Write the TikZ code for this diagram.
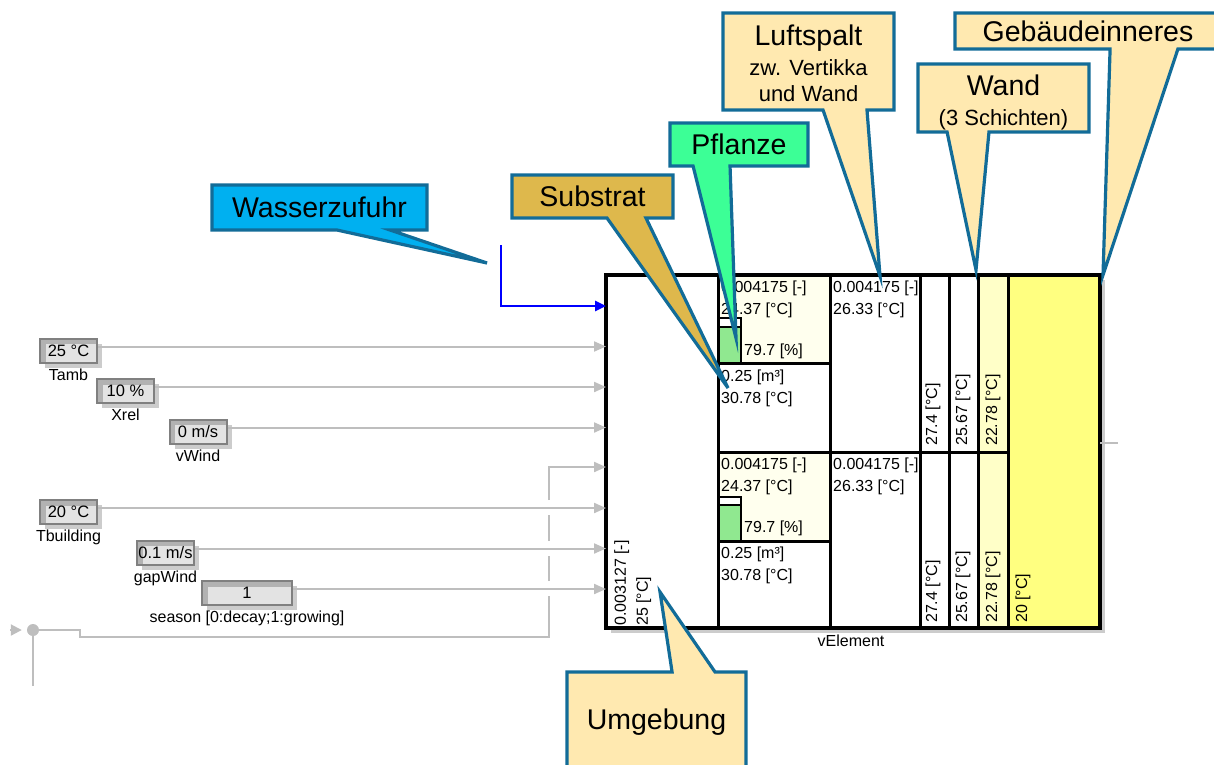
\documentclass[tikz,border=0pt]{standalone}
\usepackage{fontspec}
\setmainfont{Liberation Sans}
\usetikzlibrary{arrows.meta,positioning,calc,shadows}
\definecolor{tagline}{RGB}{18,108,152}
\definecolor{watercolor}{RGB}{0,176,240}
\definecolor{substratecolor}{RGB}{222,184,76}
\definecolor{plantcolor}{RGB}{60,255,150}
\definecolor{creamcolor}{RGB}{255,233,176}
\definecolor{sigcolor}{RGB}{190,190,190}
\definecolor{ivorycolor}{RGB}{255,255,238}
\definecolor{leafcolor}{RGB}{144,232,144}
\definecolor{paleyellow}{RGB}{255,255,200}
\definecolor{roomyellow}{RGB}{255,255,128}
\pgfdeclarelayer{tags}
\pgfdeclarelayer{tagtexts}
\pgfsetlayers{main,tags,tagtexts}

\begin{document}
\begin{tikzpicture}[
    x=1pt, y=-1pt,
    every node/.style={font=\fontsize{16}{22}\selectfont, inner sep=0pt},
    inbox/.style={rectangle, draw=black!50, line width=2pt, fill=black!11, minimum width=57pt, minimum height=24pt,
        font=\fontsize{16.5}{20}\selectfont,
        drop shadow={shadow xshift=5pt, shadow yshift=-5pt, fill=black!20, opacity=1},
        path picture={\draw[black!30, line width=5pt] ([xshift=3pt]path picture bounding box.south west) |- ([yshift=-3pt]path picture bounding box.north east);}},
    inlabel/.style={font=\fontsize{16}{20}\selectfont},
    sig/.style={draw=sigcolor, line width=2pt},
    sigarrow/.style={sig, -{Triangle[length=12pt,width=10pt]}},
    water/.style={draw=blue, line width=2.6pt, -{Triangle[length=11pt,width=10pt]}},
    cell/.style={draw=black, line width=3pt},
    tag/.style={draw=tagline, line width=3.2pt, line join=miter},
    tagtext/.style={font=\fontsize{28.5}{30}\selectfont, align=center, outer sep=0pt},
    tagsmall/.style={font=\fontsize{22}{26}\selectfont}
]
    \useasboundingbox (0,0) rectangle (1214,764);

    % Inputs
    \node[inbox] (tamb) at (68.5,350.5) {25 °C};
    \node[inlabel, below=5pt of tamb] (tamblbl) {Tamb};
    \node[inbox] (xrel) at (125.5,391) {10 \%};
    \node[inlabel, below=5pt of xrel] (xrellbl) {Xrel};
    \node[inbox] (vwind) at (198,431.5) {0 m/s};
    \node[inlabel, below=5pt of vwind] (vwindlbl) {vWind};
    \node[inbox] (tbuild) at (68.5,512) {20 °C};
    \node[inlabel, below=5pt of tbuild] (tbuildlbl) {Tbuilding};
    \node[inbox] (gapwind) at (165.5,552.5) {0.1 m/s};
    \node[inlabel, below=5pt of gapwind] (gapwindlbl) {gapWind};
    \node[inbox, minimum width=90pt] (season) at (247,593) {1};
    \node[inlabel, below=5pt of season] (seasonlbl) {season [0:decay;1:growing]};

    \node[circle, fill=sigcolor, minimum size=12pt] (jn) at (33,630) {};
    \coordinate (busin) at (10,630);
    \coordinate (busdown) at (33,686);
    \coordinate (busturn) at (549,637);
    \coordinate (wsrc) at (501,245);
    \coordinate (outr) at (1118,443);

    % Block
    \node[draw=black, line width=3.5pt, fill=white, outer sep=0pt, minimum width=494pt, minimum height=353pt,
        drop shadow={shadow xshift=5pt, shadow yshift=-5pt, fill=black!20, opacity=1}] (blk) at (853,451.5) {};
    \fill[paleyellow] (978,275) rectangle (1008,628);
    \fill[roomyellow] (1008,275) rectangle (1100,628);
    \filldraw[cell, fill=ivorycolor] (718,275) rectangle (830,363);
    \filldraw[cell, fill=ivorycolor] (718,452) rectangle (830,541);
    \draw[cell] (718,275) -- (718,628);
    \draw[cell] (830,275) -- (830,628);
    \draw[cell] (920,275) -- (920,628);
    \draw[cell] (949,275) -- (949,628);
    \draw[cell] (978,275) -- (978,628);
    \draw[cell] (1008,275) -- (1008,628);
    \draw[cell] (718,452) -- (1008,452);
    \filldraw[cell, line width=2.4pt, fill=white] (719,318) rectangle (741,327);
    \filldraw[cell, line width=2.4pt, fill=leafcolor] (719,327) rectangle (741,363);
    \filldraw[cell, line width=2.4pt, fill=white] (719,497) rectangle (741,505);
    \filldraw[cell, line width=2.4pt, fill=leafcolor] (719,505) rectangle (741,541);
    \draw[line width=3.5pt] (blk.north west) rectangle (blk.south east);

    \node[rotate=90, anchor=north west, align=left] (amb) at (614,626) {0.003127 [-]\\25 [°C]};
    \node[anchor=north west, align=left] (plantu) at (721,281) {0.004175 [-]\\24.37 [°C]};
    \node[anchor=west] (humu) at (744,351) {79.7 [\%]};
    \node[anchor=north west, align=left] (subu) at (721,370) {0.25 [m³]\\30.78 [°C]};
    \node[anchor=north west, align=left] (gapu) at (833,281) {0.004175 [-]\\26.33 [°C]};
    \node[anchor=north west, align=left] (plantl) at (721,458) {0.004175 [-]\\24.37 [°C]};
    \node[anchor=west] (huml) at (744,528) {79.7 [\%]};
    \node[anchor=north west, align=left] (subl) at (721,547) {0.25 [m³]\\30.78 [°C]};
    \node[anchor=north west, align=left] (gapl) at (833,458) {0.004175 [-]\\26.33 [°C]};
    \node[rotate=90, anchor=west] (walla) at (933,446) {27.4 [°C]};
    \node[rotate=90, anchor=west] (wallb) at (963,446) {25.67 [°C]};
    \node[rotate=90, anchor=west] (wallc) at (993,446) {22.78 [°C]};
    \node[rotate=90, anchor=west] (walld) at (933,623) {27.4 [°C]};
    \node[rotate=90, anchor=west] (walle) at (963,623) {25.67 [°C]};
    \node[rotate=90, anchor=west] (wallf) at (993,623) {22.78 [°C]};
    \node[rotate=90, anchor=west] (room) at (1023,623) {20 [°C]};
    \node[inlabel, below=7pt of blk, xshift=-2pt] (velem) {vElement};

    % Edges
    \draw[water] (wsrc) |- (blk.west |- 0,306);
    \draw[sigarrow] ([yshift=4pt]tamb.east) -- ([yshift=4pt]tamb.east -| blk.west);
    \draw[sigarrow] ([yshift=4pt]xrel.east) -- ([yshift=4pt]xrel.east -| blk.west);
    \draw[sigarrow] ([yshift=4pt]vwind.east) -- ([yshift=4pt]vwind.east -| blk.west);
    \draw[sigarrow] ([yshift=4pt]tbuild.east) -- ([yshift=4pt]tbuild.east -| blk.west);
    \draw[sigarrow] ([yshift=4pt]gapwind.east) -- ([yshift=4pt]gapwind.east -| blk.west);
    \draw[sigarrow] ([yshift=4pt]season.east) -- ([yshift=4pt]season.east -| blk.west);
    \draw[sig, -{Triangle[length=11pt,width=11pt]}, shorten >=5pt] (busin) -- (jn.west);
    \draw[sig] (jn) -- (busdown);
    \draw[sig] (jn) -- (80,630) -- (80,637) -- (busturn) -- (549,596);
    \draw[sig] (549,581) -- (549,556);
    \draw[sig] (549,541) -- (549,515);
    \draw[sigarrow] (549,500) -- (549,467) -- (blk.west |- 0,467);
    \draw[sig, line width=1.4pt] (blk.east |- outr) -- (outr);

    % Callouts
    \coordinate (wtip) at (487,263);
    \coordinate (stip) at (728,388);
    \coordinate (ptip) at (736,338);
    \coordinate (ltip) at (880,276);
    \coordinate (atip) at (976,270);
    \coordinate (gtip) at (1103,275);
    \coordinate (utip) at (660,592);
    \begin{pgfonlayer}{tagtexts}
    \node[tagtext, minimum width=215pt, minimum height=45pt] (wasser) at (319.5,207.5) {Wasserzufuhr};
    \node[tagtext, minimum width=161pt, minimum height=43pt] (substrat) at (592.5,196.5) {Substrat};
    \node[tagtext, minimum width=138pt, minimum height=43pt] (pflanze) at (739,144.5) {Pflanze};
    \node[tagtext, minimum width=171pt, minimum height=97pt] (luft) at (808.5,61.5)
        {\rule{0pt}{25pt}Luftspalt\\{\fontsize{22}{26}\selectfont zw. Vertikka}\\[-4pt]{\fontsize{22}{26}\selectfont und Wand}};
    \node[tagtext, minimum width=171pt, minimum height=68pt] (wand) at (1003.5,98)
        {\rule{0pt}{29pt}Wand\\{\fontsize{22}{26}\selectfont (3 Schichten)}};
    \node[tagtext, minimum width=266pt, minimum height=36pt] (innen) at (1088,31) {Gebäudeinneres};
    \node[tagtext, minimum width=179pt, minimum height=100pt] (umg) at (656.5,722) {Umgebung};
    \end{pgfonlayer}
    \begin{pgfonlayer}{tags}
    \filldraw[tag, fill=watercolor] (wasser.north west) -- (wasser.north east) -- (wasser.south east)
        -- ($(wasser.south west)!0.828!(wasser.south east)$) -- (wtip) -- ($(wasser.south west)!0.581!(wasser.south east)$)
        -- (wasser.south west) -- cycle;
    \filldraw[tag, fill=substratecolor] (substrat.north west) -- (substrat.north east) -- (substrat.south east)
        -- ($(substrat.south west)!0.832!(substrat.south east)$) -- (stip) -- ($(substrat.south west)!0.59!(substrat.south east)$)
        -- (substrat.south west) -- cycle;
    \filldraw[tag, fill=plantcolor] (pflanze.north west) -- (pflanze.north east) -- (pflanze.south east)
        -- ($(pflanze.south west)!0.435!(pflanze.south east)$) -- (ptip) -- ($(pflanze.south west)!0.167!(pflanze.south east)$)
        -- (pflanze.south west) -- cycle;
    \filldraw[tag, fill=creamcolor] (luft.north west) -- (luft.north east) -- (luft.south east)
        -- ($(luft.south west)!0.842!(luft.south east)$) -- (ltip) -- ($(luft.south west)!0.585!(luft.south east)$)
        -- (luft.south west) -- cycle;
    \filldraw[tag, fill=creamcolor] (wand.north west) -- (wand.north east) -- (wand.south east)
        -- ($(wand.south west)!0.415!(wand.south east)$) -- (atip) -- ($(wand.south west)!0.17!(wand.south east)$)
        -- (wand.south west) -- cycle;
    \filldraw[tag, fill=creamcolor] (innen.north west) -- (innen.north east) -- (innen.south east)
        -- ($(innen.south west)!0.838!(innen.south east)$) -- (gtip) -- ($(innen.south west)!0.583!(innen.south east)$)
        -- (innen.south west) -- cycle;
    \filldraw[tag, fill=creamcolor] (umg.north west) -- ($(umg.north west)!0.587!(umg.north east)$) -- (utip)
        -- ($(umg.north west)!0.827!(umg.north east)$) -- (umg.north east) -- (umg.south east)
        -- (umg.south west) -- cycle;
    \end{pgfonlayer}
\end{tikzpicture}
\end{document}
